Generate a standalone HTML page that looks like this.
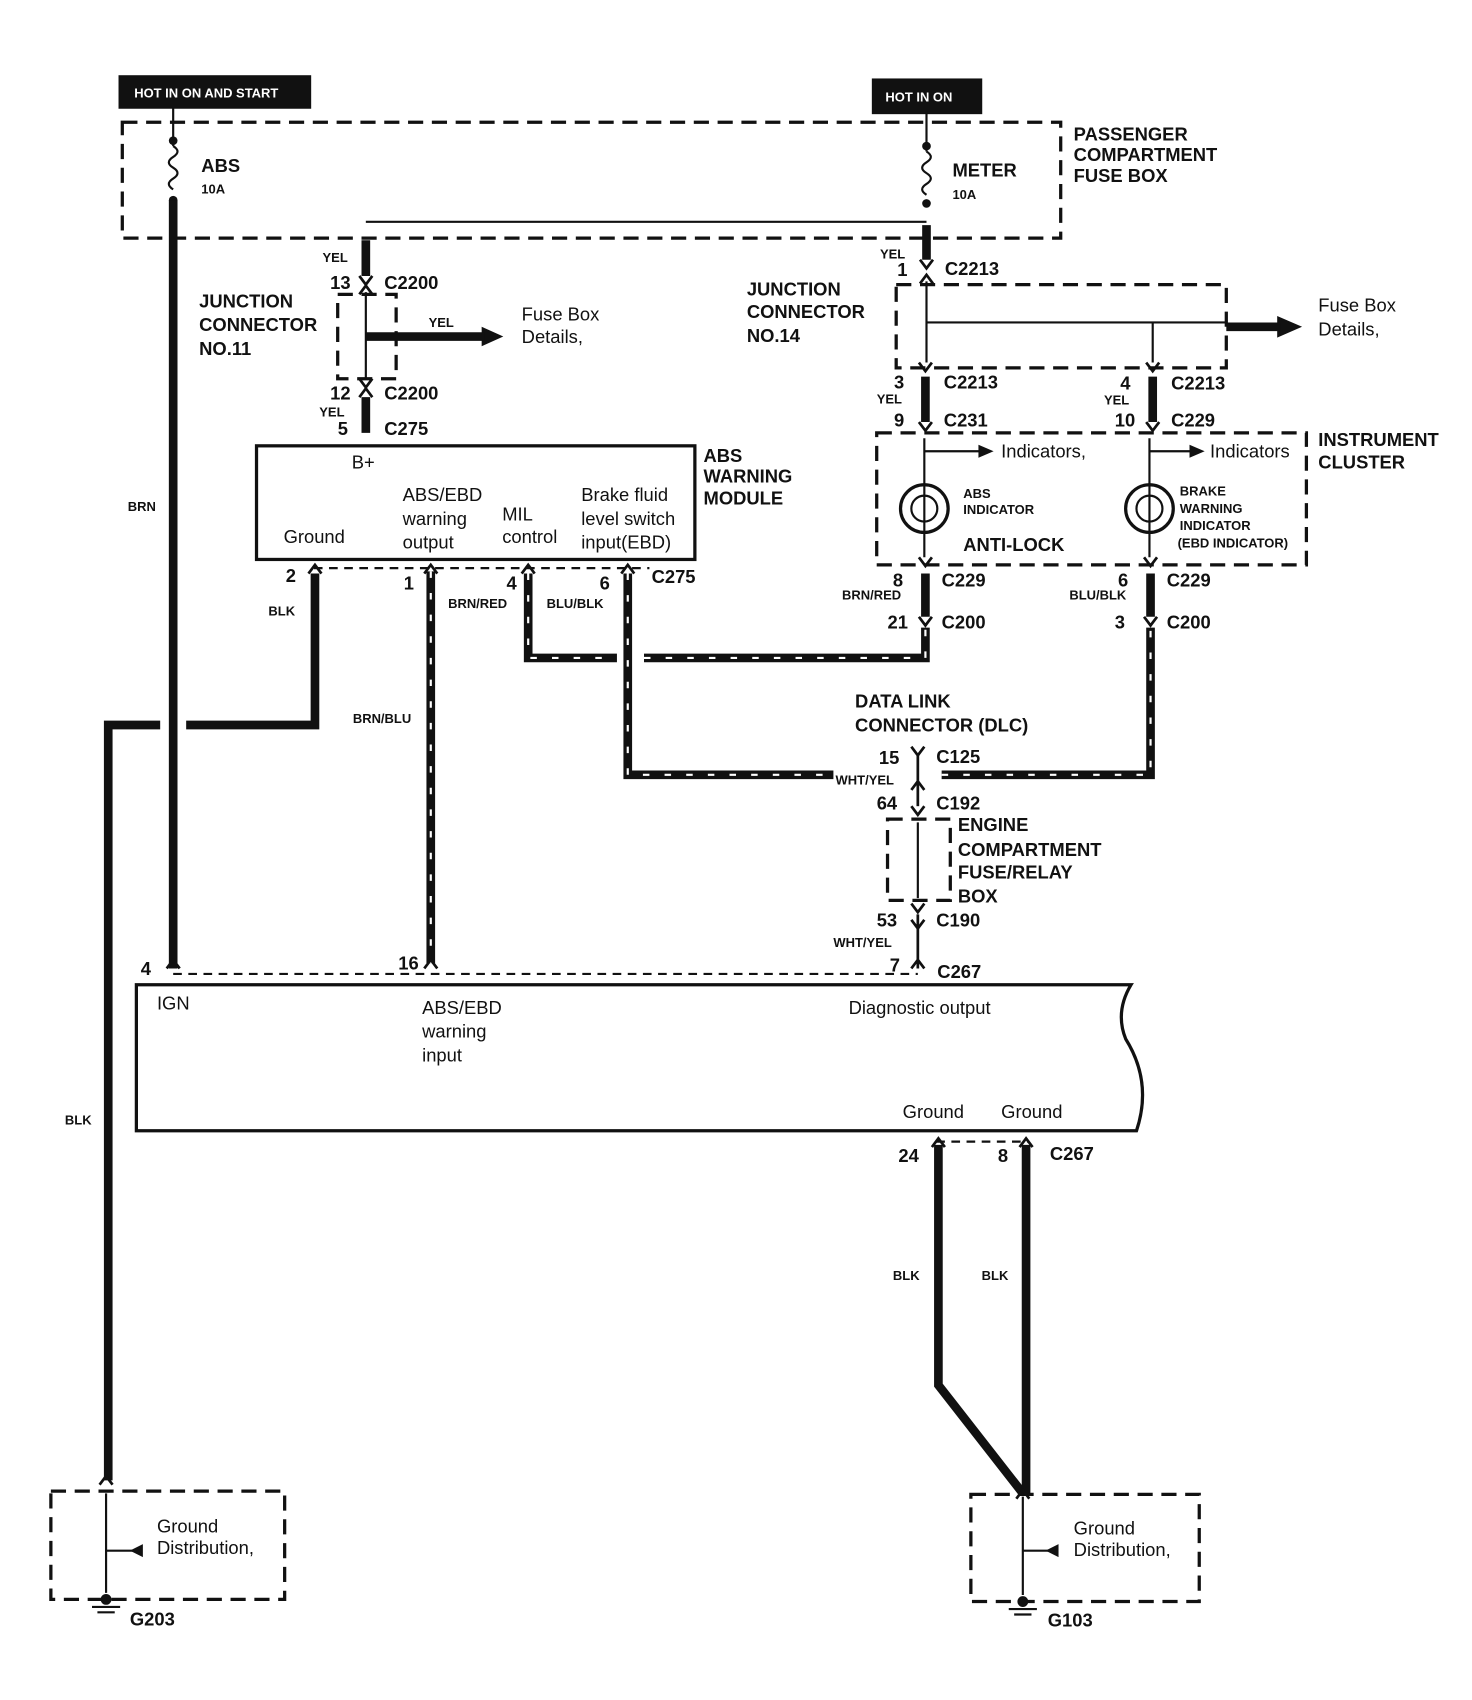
<!DOCTYPE html>
<html><head><meta charset="utf-8"><style>
html,body{margin:0;padding:0;background:#fff}
svg{display:block}
text{font-family:"Liberation Sans",sans-serif;fill:#111}
.b{font-weight:bold;font-size:17px}
.n{font-size:17px}
.s{font-weight:bold;font-size:12px}
.t{font-weight:bold;font-size:12px;fill:#fff}
</style></head><body>
<svg width="1472" height="1700" viewBox="0 0 1360 1571" preserveAspectRatio="none" xmlns="http://www.w3.org/2000/svg">
<g fill="none" stroke="#111">
<!-- header boxes -->
<rect x="110" y="70" width="177" height="30" fill="#111"/>
<rect x="806" y="73" width="101" height="32" fill="#111"/>
<!-- dashed boxes -->
<g stroke-width="3" stroke-dasharray="14,8">
<rect x="113" y="113" width="867" height="107"/>
<rect x="312" y="272" width="54" height="78"/>
<rect x="828" y="263" width="305" height="77"/>
<rect x="810" y="400" width="397" height="122"/>
<rect x="820" y="757" width="58" height="75"/>
<rect x="47" y="1378" width="216" height="100"/>
<rect x="897" y="1381" width="211" height="99"/>
</g>
<g stroke-width="2" stroke-dasharray="8,6">
<line x1="290" y1="525" x2="600" y2="525"/>
<line x1="160" y1="900" x2="848" y2="900"/>
<line x1="865" y1="1055" x2="950" y2="1055"/>
</g>
<!-- fuses -->
<g stroke-width="2">
<line x1="160" y1="100" x2="160" y2="135"/>
<path d="M160 135 q8 5 0 10 q-8 5 0 10 q8 5 0 10 q-8 5 0 10"/>
<line x1="856" y1="105" x2="856" y2="140"/>
<path d="M856 140 q8 5 0 10 q-8 5 0 10 q8 5 0 10 q-8 5 0 10"/>
<line x1="338" y1="205" x2="856" y2="205"/>
<line x1="338" y1="270" x2="338" y2="350"/>
<line x1="856" y1="260" x2="856" y2="335"/>
<line x1="856" y1="298" x2="1133" y2="298"/>
<line x1="1065" y1="298" x2="1065" y2="335"/>
<line x1="854" y1="405" x2="854" y2="515"/>
<line x1="1062" y1="405" x2="1062" y2="515"/>
<line x1="854" y1="417" x2="910" y2="417"/>
<line x1="1062" y1="417" x2="1105" y2="417"/>
<line x1="848" y1="760" x2="848" y2="830"/>
<line x1="98" y1="1380" x2="98" y2="1472"/>
<line x1="98" y1="1433" x2="125" y2="1433"/>
<line x1="945" y1="1383" x2="945" y2="1474"/>
<line x1="945" y1="1433" x2="972" y2="1433"/>
<circle cx="854" cy="470" r="22" stroke-width="3"/>
<circle cx="854" cy="470" r="12"/>
<circle cx="1062" cy="470" r="22" stroke-width="3"/>
<circle cx="1062" cy="470" r="12"/>
<line x1="85" y1="1485" x2="111" y2="1485"/><line x1="90" y1="1490" x2="106" y2="1490"/>
<line x1="932" y1="1487" x2="958" y2="1487"/><line x1="937" y1="1492" x2="953" y2="1492"/>
</g>
<g fill="#111" stroke="none">
<circle cx="160" cy="130" r="4"/><circle cx="160" cy="185" r="4"/>
<circle cx="856" cy="135" r="4"/><circle cx="856" cy="188" r="4"/>
<circle cx="98" cy="1478" r="5"/><circle cx="945" cy="1480" r="5"/>
<polygon points="465,311 445,302 445,320"/>
<polygon points="1203,302 1180,292 1180,312"/>
<polygon points="918,417 904,411 904,423"/>
<polygon points="1113,417 1099,411 1099,423"/>
<polygon points="120,1433 132,1427 132,1439"/>
<polygon points="966,1433 978,1427 978,1439"/>
</g>
<!-- solid thick wires -->
<g stroke-width="8">
<line x1="160" y1="185" x2="160" y2="895"/>
<polyline points="291,530 291,670 172,670"/>
<polyline points="148,670 100,670 100,1368"/>
<line x1="338" y1="222" x2="338" y2="255"/>
<line x1="338" y1="367" x2="338" y2="400"/>
<line x1="338" y1="311" x2="448" y2="311"/>
<line x1="856" y1="208" x2="856" y2="240"/>
<line x1="1133" y1="302" x2="1183" y2="302"/>
<line x1="855" y1="348" x2="855" y2="390"/>
<line x1="1065" y1="348" x2="1065" y2="390"/>
<line x1="855" y1="530" x2="855" y2="570"/>
<line x1="1063" y1="530" x2="1063" y2="570"/>
<polyline points="867,1058 867,1280 945,1380"/>
<line x1="948" y1="1058" x2="948" y2="1380"/>
</g>
<!-- striped wires -->
<g stroke-width="8">
<line x1="398" y1="528" x2="398" y2="890"/>
<polyline points="488,530 488,608 570,608"/>
<polyline points="595,608 855,608 855,580"/>
<polyline points="580,530 580,716 770,716"/>
<polyline points="870,716 1063,716 1063,580"/>
</g>
<g stroke="#fff" stroke-width="2" stroke-dasharray="6,14">
<line x1="398" y1="528" x2="398" y2="890"/>
<polyline points="488,530 488,608 570,608"/>
<polyline points="595,608 855,608 855,580"/>
<polyline points="580,530 580,716 770,716"/>
<polyline points="870,716 1063,716 1063,580"/>
</g>
<!-- connector forks -->
<g stroke-width="2.5">
<path d="M332 255 l6 8 l6 -8 M332 272 l6 -8 l6 8"/>
<path d="M332 350 l6 8 l6 -8 M332 367 l6 -8 l6 8"/>
<path d="M850 240 l6 8 l6 -8 M850 262 l6 -8 l6 8"/>
<path d="M849 335 l6 8 l6 -8 M1059 335 l6 8 l6 -8"/>
<path d="M849 390 l6 8 l6 -8 M1059 390 l6 8 l6 -8"/>
<path d="M849 515 l6 8 l6 -8 M1057 515 l6 8 l6 -8"/>
<path d="M849 570 l6 8 l6 -8 M1057 570 l6 8 l6 -8"/>
<path d="M285 530 l6 -8 l6 8 M392 530 l6 -8 l6 8 M482 530 l6 -8 l6 8 M574 530 l6 -8 l6 8"/>
<path d="M842 690 l6 8 l6 -8 M842 730 l6 -8 l6 8 M842 745 l6 8 l6 -8"/>
<path d="M842 835 l6 8 l6 -8 M842 850 l6 8 l6 -8 M842 895 l6 -8 l6 8"/>
<line x1="848" y1="698" x2="848" y2="745"/><line x1="848" y1="845" x2="848" y2="895"/>
<path d="M154 895 l6 -8 l6 8 M392 895 l6 -8 l6 8"/>
<path d="M861 1060 l6 -8 l6 8 M942 1060 l6 -8 l6 8"/>
<path d="M92 1372 l6 -8 l6 8 M939 1385 l6 -8 l6 8"/>
</g>
<!-- module boxes -->
<rect x="237" y="412" width="405" height="105" stroke-width="3"/>
<path d="M126 910 L1045 910 Q1030 935 1040 960 Q1065 1000 1050 1045 L126 1045 Z" stroke-width="3"/>
</g>
<text class="t" x="124" y="90">HOT IN ON AND START</text>
<text class="t" x="818" y="94">HOT IN ON</text>
<text class="b" x="992" y="130">PASSENGER</text>
<text class="b" x="992" y="149">COMPARTMENT</text>
<text class="b" x="992" y="168">FUSE BOX</text>
<text class="b" x="186" y="159">ABS</text><text class="s" x="186" y="179">10A</text>
<text class="b" x="880" y="163">METER</text><text class="s" x="880" y="184">10A</text>
<text class="s" x="298" y="242">YEL</text>
<text class="b" x="305" y="267">13</text><text class="b" x="355" y="267">C2200</text>
<text class="b" x="184" y="284">JUNCTION</text><text class="b" x="184" y="306">CONNECTOR</text><text class="b" x="184" y="328">NO.11</text>
<text class="s" x="396" y="302">YEL</text>
<text class="n" x="482" y="296">Fuse Box</text><text class="n" x="482" y="317">Details,</text>
<text class="b" x="305" y="369">12</text><text class="b" x="355" y="369">C2200</text>
<text class="s" x="295" y="385">YEL</text>
<text class="b" x="312" y="402">5</text><text class="b" x="355" y="402">C275</text>
<text class="n" x="325" y="433">B+</text>
<text class="n" x="262" y="502">Ground</text>
<text class="n" x="372" y="463">ABS/EBD</text><text class="n" x="372" y="485">warning</text><text class="n" x="372" y="507">output</text>
<text class="n" x="464" y="481">MIL</text><text class="n" x="464" y="502">control</text>
<text class="n" x="537" y="463">Brake fluid</text><text class="n" x="537" y="485">level switch</text><text class="n" x="537" y="507">input(EBD)</text>
<text class="b" x="650" y="427">ABS</text><text class="b" x="650" y="446">WARNING</text><text class="b" x="650" y="466">MODULE</text>
<text class="b" x="264" y="538">2</text><text class="b" x="373" y="545">1</text><text class="b" x="468" y="545">4</text><text class="b" x="554" y="545">6</text><text class="b" x="602" y="539">C275</text>
<text class="s" x="248" y="569">BLK</text><text class="s" x="414" y="562">BRN/RED</text><text class="s" x="505" y="562">BLU/BLK</text>
<text class="s" x="118" y="472">BRN</text><text class="s" x="326" y="668">BRN/BLU</text><text class="s" x="60" y="1039">BLK</text>
<text class="s" x="813" y="239">YEL</text>
<text class="b" x="829" y="255">1</text><text class="b" x="873" y="254">C2213</text>
<text class="b" x="690" y="273">JUNCTION</text><text class="b" x="690" y="294">CONNECTOR</text><text class="b" x="690" y="316">NO.14</text>
<text class="n" x="1218" y="288">Fuse Box</text><text class="n" x="1218" y="310">Details,</text>
<text class="b" x="826" y="359">3</text><text class="b" x="872" y="359">C2213</text>
<text class="b" x="1035" y="360">4</text><text class="b" x="1082" y="360">C2213</text>
<text class="s" x="810" y="373">YEL</text><text class="s" x="1020" y="374">YEL</text>
<text class="b" x="826" y="394">9</text><text class="b" x="872" y="394">C231</text>
<text class="b" x="1030" y="394">10</text><text class="b" x="1082" y="394">C229</text>
<text class="n" x="925" y="423">Indicators,</text><text class="n" x="1118" y="423">Indicators</text>
<text class="b" x="1218" y="412">INSTRUMENT</text><text class="b" x="1218" y="433">CLUSTER</text>
<text class="s" x="890" y="460">ABS</text><text class="s" x="890" y="475">INDICATOR</text>
<text class="b" x="890" y="509">ANTI-LOCK</text>
<text class="s" x="1090" y="458">BRAKE</text><text class="s" x="1090" y="474">WARNING</text><text class="s" x="1090" y="490">INDICATOR</text><text class="s" x="1088" y="506">(EBD INDICATOR)</text>
<text class="b" x="825" y="542">8</text><text class="b" x="870" y="542">C229</text>
<text class="b" x="1033" y="542">6</text><text class="b" x="1078" y="542">C229</text>
<text class="s" x="778" y="554">BRN/RED</text><text class="s" x="988" y="554">BLU/BLK</text>
<text class="b" x="820" y="581">21</text><text class="b" x="870" y="581">C200</text>
<text class="b" x="1030" y="581">3</text><text class="b" x="1078" y="581">C200</text>
<text class="b" x="790" y="654">DATA LINK</text><text class="b" x="790" y="676">CONNECTOR (DLC)</text>
<text class="b" x="812" y="706">15</text><text class="b" x="865" y="705">C125</text>
<text class="s" x="772" y="725">WHT/YEL</text>
<text class="b" x="810" y="748">64</text><text class="b" x="865" y="748">C192</text>
<text class="b" x="885" y="768">ENGINE</text><text class="b" x="885" y="791">COMPARTMENT</text><text class="b" x="885" y="812">FUSE/RELAY</text><text class="b" x="885" y="834">BOX</text>
<text class="b" x="810" y="856">53</text><text class="b" x="865" y="856">C190</text>
<text class="s" x="770" y="875">WHT/YEL</text>
<text class="b" x="822" y="898">7</text><text class="b" x="866" y="904">C267</text>
<text class="b" x="130" y="901">4</text><text class="b" x="368" y="896">16</text>
<text class="n" x="145" y="933">IGN</text>
<text class="n" x="390" y="937">ABS/EBD</text><text class="n" x="390" y="959">warning</text><text class="n" x="390" y="981">input</text>
<text class="n" x="784" y="937">Diagnostic output</text>
<text class="n" x="834" y="1033">Ground</text><text class="n" x="925" y="1033">Ground</text>
<text class="b" x="830" y="1074">24</text><text class="b" x="922" y="1074">8</text><text class="b" x="970" y="1072">C267</text>
<text class="s" x="825" y="1183">BLK</text><text class="s" x="907" y="1183">BLK</text>
<text class="n" x="145" y="1416">Ground</text><text class="n" x="145" y="1436">Distribution,</text>
<text class="b" x="120" y="1502">G203</text>
<text class="n" x="992" y="1418">Ground</text><text class="n" x="992" y="1438">Distribution,</text>
<text class="b" x="968" y="1503">G103</text>
</svg>
</body></html>
